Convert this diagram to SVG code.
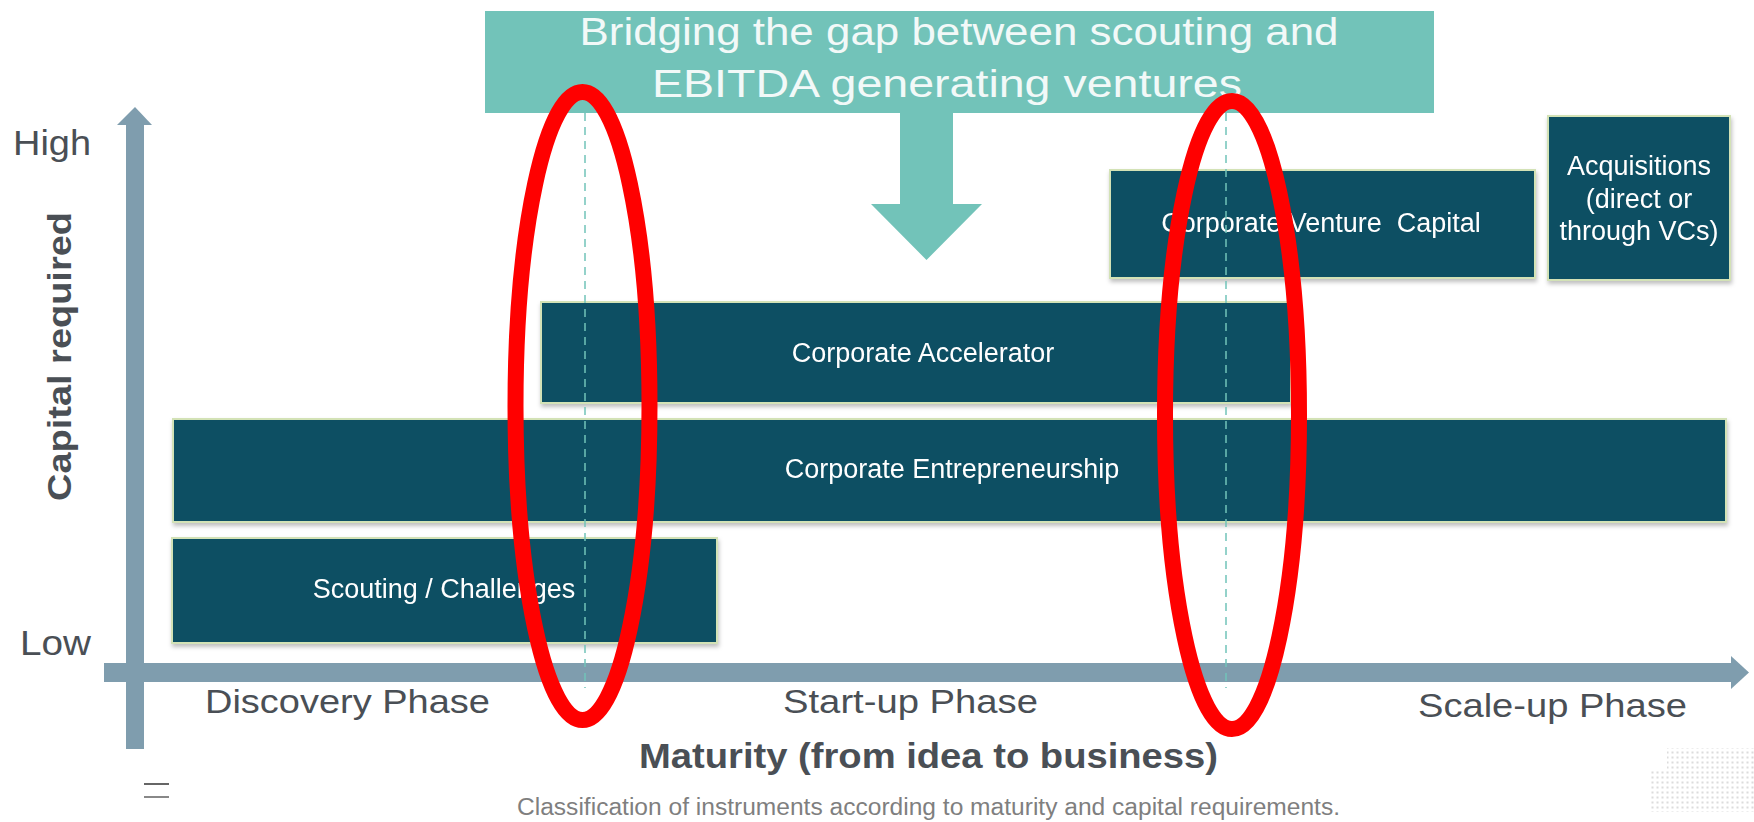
<svg xmlns="http://www.w3.org/2000/svg" width="1754" height="822" viewBox="0 0 1754 822">
<style>
.ax{fill:#7F9DAE}
.box{fill:#104F63;stroke:#D3E2B6;stroke-width:2}
.bt{font-family:"Liberation Sans",Arial,sans-serif;font-size:27px;fill:#FFFFFF;text-anchor:middle;white-space:pre}
.lab{font-family:"Liberation Sans",Arial,sans-serif;fill:#4A4F55}
.bold{font-weight:bold}
.dash{stroke:#72C3B9;stroke-width:1.5;stroke-dasharray:8 6;fill:none}
.ring{fill:none;stroke:#FF0000;stroke-width:16}
</style>
<defs>
<filter id="sh" x="-5%" y="-10%" width="110%" height="130%">
<feDropShadow dx="1" dy="3" stdDeviation="2" flood-color="#000" flood-opacity="0.25"/>
</filter>
<pattern id="dots" width="5" height="5" patternUnits="userSpaceOnUse">
<rect x="1.5" y="1.5" width="2" height="2" fill="#DCDCDC"/>
</pattern>
</defs>
<rect width="1754" height="822" fill="#FFFFFF"/>

<g id="banner">
<rect x="485" y="11" width="949" height="102" fill="#72C3B9"/>
<text class="lab" x="959" y="45" font-size="38" style="fill:#F2F9F8" text-anchor="middle" textLength="759" lengthAdjust="spacingAndGlyphs">Bridging the gap between scouting and</text>
<text class="lab" x="947" y="97" font-size="38" style="fill:#F2F9F8" text-anchor="middle" textLength="590" lengthAdjust="spacingAndGlyphs">EBITDA generating ventures</text>
<polygon points="900,113 953,113 953,204 982,204 926.5,260 871,204 900,204" fill="#72C3B9"/>
</g>

<g id="axes">
<rect class="ax" x="126" y="124" width="18" height="625"/>
<polygon class="ax" points="117,125 135,107 152,125"/>
<rect class="ax" x="104" y="663" width="1629" height="19"/>
<polygon class="ax" points="1731,656 1749,672.5 1731,689"/>
<text class="lab" x="13" y="155" font-size="35" textLength="78" lengthAdjust="spacingAndGlyphs">High</text>
<text class="lab" x="20" y="655" font-size="35" textLength="71" lengthAdjust="spacingAndGlyphs">Low</text>
<text class="lab bold" transform="translate(71,356.5) rotate(-90)" x="0" y="0" font-size="34" text-anchor="middle" textLength="289" lengthAdjust="spacingAndGlyphs">Capital required</text>
<text class="lab" x="347.5" y="713" font-size="34" text-anchor="middle" textLength="285" lengthAdjust="spacingAndGlyphs">Discovery Phase</text>
<text class="lab" x="910.5" y="713" font-size="34" text-anchor="middle" textLength="255" lengthAdjust="spacingAndGlyphs">Start-up Phase</text>
<text class="lab" x="1552.5" y="717" font-size="34" text-anchor="middle" textLength="269" lengthAdjust="spacingAndGlyphs">Scale-up Phase</text>
<text class="lab bold" x="928.5" y="768" font-size="35" text-anchor="middle" textLength="579" lengthAdjust="spacingAndGlyphs">Maturity (from idea to business)</text>
</g>

<g id="box-cvc" filter="url(#sh)">
<rect class="box" x="1110" y="170" width="425" height="108"/>
<text class="bt" x="1321" y="232" xml:space="preserve">Corporate Venture  Capital</text>
</g>
<g id="box-acq" filter="url(#sh)">
<rect class="box" x="1548" y="116" width="182" height="164"/>
<text class="bt" x="1639" y="175">Acquisitions</text>
<text class="bt" x="1639" y="208">(direct or</text>
<text class="bt" x="1639" y="240">through VCs)</text>
</g>
<g id="box-acc" filter="url(#sh)">
<rect class="box" x="541" y="302" width="750" height="101"/>
<text class="bt" x="923" y="362">Corporate Accelerator</text>
</g>
<g id="box-ent" filter="url(#sh)">
<rect class="box" x="173" y="419" width="1553" height="103"/>
<text class="bt" x="952" y="478">Corporate Entrepreneurship</text>
</g>
<g id="box-scout" filter="url(#sh)">
<rect class="box" x="172" y="538" width="545" height="105"/>
<text class="bt" x="444" y="598">Scouting / Challenges</text>
</g>

<g id="connectors">
<line class="dash" x1="585" y1="113" x2="585" y2="688"/>
<line class="dash" x1="1226" y1="113" x2="1226" y2="688"/>
</g>

<g id="highlights">
<ellipse class="ring" cx="582.5" cy="406" rx="67" ry="314"/>
<ellipse class="ring" cx="1232" cy="415" rx="67" ry="314"/>
</g>

<g id="footer">
<line x1="144" y1="784" x2="169" y2="784" stroke="#666" stroke-width="2"/>
<line x1="144" y1="797" x2="169" y2="797" stroke="#888" stroke-width="2"/>
<text class="lab" x="928.5" y="815" font-size="23" style="fill:#7F7F7F" text-anchor="middle" textLength="823" lengthAdjust="spacingAndGlyphs">Classification of instruments according to maturity and capital requirements.</text>
<rect x="1667" y="748" width="87" height="21" fill="url(#dots)"/>
<rect x="1650" y="769" width="104" height="43" fill="url(#dots)"/>
</g>
</svg>
